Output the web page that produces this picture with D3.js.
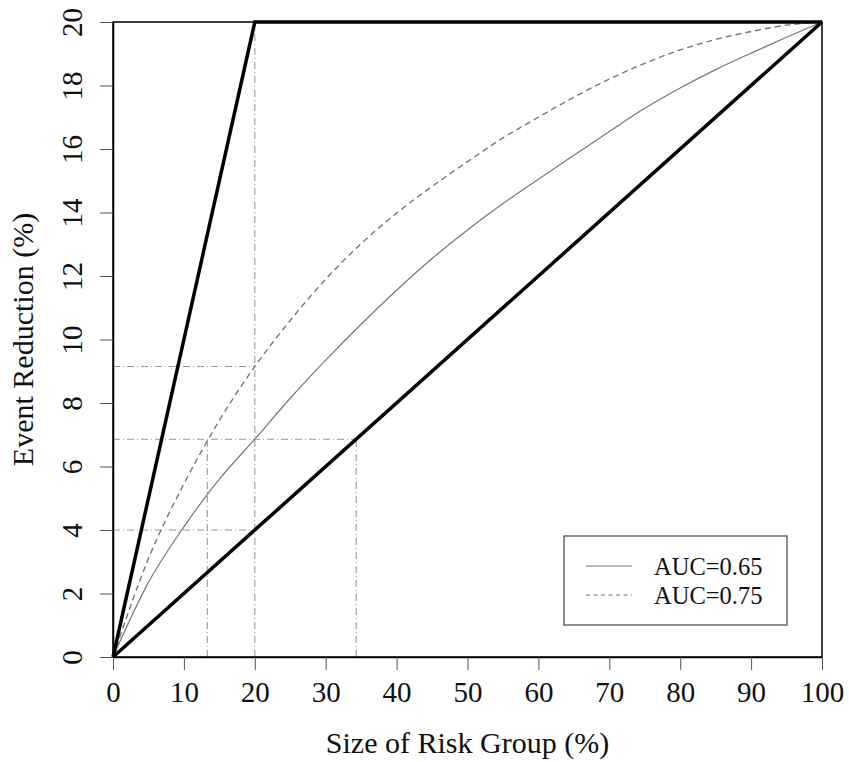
<!DOCTYPE html>
<html>
<head>
<meta charset="utf-8">
<script src="https://cdn.jsdelivr.net/npm/d3@7"></script>
<style>
  body { margin: 0; background: #fff; }
  svg text { font-family: "Liberation Serif", "Times New Roman", "DejaVu Serif", serif !important; fill: #111; }
</style>
</head>
<body>
<script>
// x positions (size of risk group, %)
const riskSize = [0, 5, 10, 15, 20, 25, 30, 35, 40, 45, 50, 55, 60, 65, 70, 75, 80, 85, 90, 95, 100];
// event reduction (%) for each AUC curve
const auc65 = [0, 2.35, 4.1, 5.6, 6.86, 8.15, 9.35, 10.48, 11.55, 12.55, 13.45, 14.28, 15.05, 15.8, 16.55, 17.28, 17.92, 18.5, 19.02, 19.52, 20];
const auc75 = [0, 3.1, 5.45, 7.45, 9.15, 10.6, 11.9, 13.02, 13.98, 14.82, 15.6, 16.35, 17.0, 17.63, 18.2, 18.7, 19.12, 19.45, 19.7, 19.9, 20];
// bounds: perfect model and random model
const upperBound = [[0, 0], [20, 20], [100, 20]];
const lowerBound = [[0, 0], [100, 20]];
// dot-dash reference lines
const vRefs = [[13.3, 6.86], [20, 20], [34.3, 6.86]];
const hRefs = [[9.15, 20], [6.86, 34.3], [4, 20]];
const xTicks = [0, 10, 20, 30, 40, 50, 60, 70, 80, 90, 100];
const yTicks = [0, 2, 4, 6, 8, 10, 12, 14, 16, 18, 20];
const legendLabels = ["AUC=0.65", "AUC=0.75"];

const serif = "'Liberation Serif', 'Times New Roman', 'DejaVu Serif', serif";
const width = 849, height = 762;
const margin = {top: 22, right: 27, bottom: 105, left: 113};

const svg = d3.select("body").append("svg")
  .attr("width", width).attr("height", height);

const x = d3.scaleLinear().domain([0, 100]).range([margin.left, width - margin.right]);
const y = d3.scaleLinear().domain([0, 20]).range([height - margin.bottom, margin.top]);

const line = d3.line().x(d => x(d[0])).y(d => y(d[1]));
const smooth = d3.line().x(d => x(d[0])).y(d => y(d[1])).curve(d3.curveMonotoneX);

// reference lines
const refStyle = sel => sel.attr("stroke", "#999").attr("stroke-width", 1.1)
  .attr("stroke-dasharray", "7,3,1,3");
svg.selectAll(".vref").data(vRefs).enter().append("line")
  .attr("x1", d => x(d[0])).attr("x2", d => x(d[0]))
  .attr("y1", y(0)).attr("y2", d => y(d[1]))
  .call(refStyle);
svg.selectAll(".href").data(hRefs).enter().append("line")
  .attr("x1", x(0)).attr("x2", d => x(d[1]))
  .attr("y1", d => y(d[0])).attr("y2", d => y(d[0]))
  .call(refStyle);

// curves
svg.append("path")
  .attr("d", smooth(riskSize.map((v, i) => [v, auc65[i]])))
  .attr("fill", "none").attr("stroke", "#777").attr("stroke-width", 1.2);
svg.append("path")
  .attr("d", smooth(riskSize.map((v, i) => [v, auc75[i]])))
  .attr("fill", "none").attr("stroke", "#777").attr("stroke-width", 1.4)
  .attr("stroke-dasharray", "6,4");

// box
svg.append("rect")
  .attr("x", x(0)).attr("y", y(20))
  .attr("width", x(100) - x(0)).attr("height", y(0) - y(20))
  .attr("fill", "none").attr("stroke", "#000").attr("stroke-width", 1.5);

// bounds
[upperBound, lowerBound].forEach(b => {
  svg.append("path").attr("d", line(b))
    .attr("fill", "none").attr("stroke", "#000").attr("stroke-width", 3.5)
    .attr("stroke-linejoin", "miter");
});

// axes
const xAxis = svg.append("g")
  .attr("transform", "translate(0," + y(0) + ")")
  .call(d3.axisBottom(x).tickValues(xTicks).tickSize(13).tickSizeOuter(0));
const yAxis = svg.append("g")
  .attr("transform", "translate(" + x(0) + ",0)")
  .call(d3.axisLeft(y).tickValues(yTicks).tickSize(13).tickSizeOuter(0));
[xAxis, yAxis].forEach(g => {
  g.attr("font-family", serif).attr("font-size", 29);
  g.select(".domain").attr("stroke", "#000").attr("stroke-width", 1.5);
  g.selectAll(".tick line").attr("stroke", "#555").attr("stroke-width", 1);
  g.selectAll(".tick text").attr("fill", "#111");
});
xAxis.selectAll(".tick text").attr("y", 0).attr("dy", 0)
  .attr("transform", "translate(0,45)");
yAxis.selectAll(".tick text")
  .attr("x", 0).attr("dy", 0)
  .attr("text-anchor", "middle")
  .attr("transform", "translate(-31,0) rotate(-90)");

// titles
svg.append("text")
  .attr("x", (x(0) + x(100)) / 2).attr("y", 753)
  .attr("text-anchor", "middle")
  .attr("font-family", serif).attr("font-size", 30)
  .text("Size of Risk Group (%)");
svg.append("text")
  .attr("transform", "translate(33," + (y(0) + y(20)) / 2 + ") rotate(-90)")
  .attr("text-anchor", "middle")
  .attr("font-family", serif).attr("font-size", 30)
  .text("Event Reduction (%)");

// legend
const lg = svg.append("g");
lg.append("rect")
  .attr("x", 564).attr("y", 536).attr("width", 223).attr("height", 89)
  .attr("fill", "#fff").attr("stroke", "#444").attr("stroke-width", 1.2);
legendLabels.forEach((lab, i) => {
  const ly = 566 + i * 29;
  lg.append("line")
    .attr("x1", 586).attr("x2", 632).attr("y1", ly).attr("y2", ly)
    .attr("stroke", "#777").attr("stroke-width", 1.2)
    .attr("stroke-dasharray", i === 1 ? "4,3.5" : null);
  lg.append("text")
    .attr("x", 654).attr("y", ly + 9)
    .attr("font-family", serif).attr("font-size", 24.5)
    .text(lab);
});
</script>
</body>
</html>
